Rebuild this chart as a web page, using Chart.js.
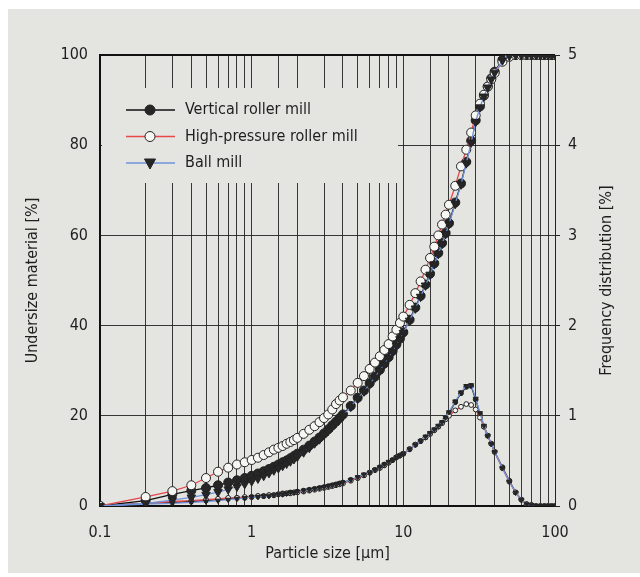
<!DOCTYPE html>
<html>
<head>
<meta charset="utf-8">
<script src="https://cdn.jsdelivr.net/npm/chart.js@4.4.1/dist/chart.umd.min.js"></script>
<style>
  html, body { margin: 0; padding: 0; background: #fff; }
  canvas { display: block; }
</style>
</head>
<body>
<canvas id="chart" width="640" height="577"></canvas>
<script>
// particle size classes [µm]
const sizes = [0.1, 0.2, 0.3, 0.4, 0.5, 0.6, 0.7, 0.8, 0.9, 1,
  1.1, 1.2, 1.3, 1.4, 1.5, 1.6, 1.7, 1.8, 1.9, 2,
  2.2, 2.4, 2.6, 2.8, 3, 3.2, 3.4, 3.6, 3.8, 4,
  4.5, 5, 5.5, 6, 6.5, 7, 7.5, 8, 8.5, 9, 9.5, 10,
  11, 12, 13, 14, 15, 16, 17, 18, 19, 20,
  22, 24, 26, 28, 30, 32, 34, 36, 38, 40,
  45, 50, 55, 60, 65, 70, 75, 80, 85, 90, 95, 100];

// undersize material [%]
const vrmCum = [0, 1.2, 2.6, 3.4, 4.0, 4.6, 5.2, 5.7, 6.2, 6.7,
  7.2, 7.7, 8.2, 8.7, 9.2, 9.7, 10.1, 10.6, 11.1, 11.6,
  12.5, 13.4, 14.3, 15.2, 16.1, 17.0, 17.9, 18.7, 19.5, 20.3,
  22.2, 24.0, 25.6, 27.2, 28.7, 30.2, 31.6, 33.0, 34.4, 35.8, 37.1, 38.5,
  41.3, 44.0, 46.6, 49.1, 51.5, 53.8, 56.1, 58.3, 60.5, 62.7,
  67.3, 71.5, 76.3, 81.0, 85.5, 88.6, 91.0, 93.0, 94.8, 96.3,
  98.9, 99.8, 100, 100, 100, 100, 100, 100, 100, 100, 100, 100];
const hprmCum = [0, 2.0, 3.3, 4.6, 6.2, 7.6, 8.5, 9.2, 9.7, 10.2,
  10.7, 11.3, 11.9, 12.5, 12.9, 13.3, 13.8, 14.2, 14.6, 15.1,
  16.0, 16.9, 17.7, 18.6, 19.5, 20.3, 21.4, 22.6, 23.4, 24.1,
  25.6, 27.3, 28.8, 30.4, 31.8, 33.2, 34.6, 35.9, 37.6, 39.1, 40.6, 42.0,
  44.6, 47.2, 49.8, 52.4, 55.0, 57.5, 60.0, 62.4, 64.6, 66.8,
  71.0, 75.3, 79.0, 82.8, 86.6, 89.2, 91.2, 93.0, 94.6, 96.0,
  98.5, 99.6, 100, 100, 100, 100, 100, 100, 100, 100, 100, 100];
const bmCum = [0, 0.6, 1.3, 1.9, 2.5, 3.1, 3.7, 4.3, 4.9, 5.5,
  6.1, 6.7, 7.3, 7.9, 8.4, 8.9, 9.4, 9.9, 10.4, 10.9,
  11.9, 12.9, 13.9, 14.8, 15.8, 16.7, 17.6, 18.5, 19.3, 20.1,
  22.0, 23.8, 25.4, 27.0, 28.5, 30.0, 31.4, 32.8, 34.2, 35.6, 37.0, 38.4,
  41.1, 43.8, 46.4, 48.9, 51.3, 53.6, 55.9, 58.1, 60.3, 62.5,
  67.0, 71.3, 76.0, 80.6, 85.2, 88.4, 90.8, 92.8, 94.6, 96.1,
  98.8, 99.8, 100, 100, 100, 100, 100, 100, 100, 100, 100, 100];

// frequency distribution [%]
const vrmFreq = [0, 0.03, 0.04, 0.05, 0.06, 0.07, 0.08, 0.09, 0.09, 0.10,
  0.11, 0.11, 0.12, 0.12, 0.13, 0.14, 0.14, 0.15, 0.15, 0.16,
  0.17, 0.18, 0.19, 0.20, 0.21, 0.22, 0.23, 0.24, 0.25, 0.26,
  0.29, 0.31, 0.34, 0.37, 0.40, 0.43, 0.46, 0.48, 0.51, 0.54, 0.56, 0.58,
  0.63, 0.68, 0.72, 0.76, 0.80, 0.84, 0.88, 0.92, 0.97, 1.03,
  1.15, 1.25, 1.32, 1.33, 1.18, 1.02, 0.88, 0.78, 0.69, 0.60,
  0.43, 0.28, 0.15, 0.07, 0.02, 0.01, 0, 0, 0, 0, 0, 0];
const hprmFreq = [0, 0.03, 0.05, 0.06, 0.07, 0.08, 0.09, 0.09, 0.10, 0.10,
  0.11, 0.11, 0.12, 0.12, 0.13, 0.13, 0.14, 0.14, 0.15, 0.15,
  0.16, 0.17, 0.18, 0.19, 0.20, 0.21, 0.22, 0.23, 0.24, 0.25,
  0.28, 0.31, 0.34, 0.37, 0.40, 0.42, 0.45, 0.48, 0.51, 0.54, 0.56, 0.58,
  0.63, 0.68, 0.72, 0.76, 0.80, 0.84, 0.88, 0.92, 0.96, 1.00,
  1.06, 1.10, 1.13, 1.12, 1.07, 0.98, 0.88, 0.78, 0.69, 0.60,
  0.42, 0.27, 0.15, 0.07, 0.02, 0.01, 0, 0, 0, 0, 0, 0];
const bmFreq = [0, 0.02, 0.03, 0.04, 0.05, 0.06, 0.07, 0.08, 0.09, 0.10,
  0.10, 0.11, 0.11, 0.12, 0.13, 0.13, 0.14, 0.15, 0.15, 0.16,
  0.17, 0.18, 0.19, 0.20, 0.21, 0.22, 0.23, 0.24, 0.25, 0.26,
  0.29, 0.32, 0.35, 0.37, 0.40, 0.43, 0.46, 0.49, 0.51, 0.54, 0.56, 0.58,
  0.63, 0.68, 0.72, 0.77, 0.81, 0.85, 0.89, 0.93, 0.98, 1.04,
  1.16, 1.26, 1.33, 1.34, 1.19, 1.03, 0.89, 0.78, 0.69, 0.60,
  0.42, 0.27, 0.15, 0.07, 0.02, 0.01, 0, 0, 0, 0, 0, 0];

const seriesNames = ['Vertical roller mill', 'High-pressure roller mill', 'Ball mill'];
const xLabels = [0.1, 1, 10, 100];

const BG = '#e4e4e1';
const INK = '#1e1e1e';
const FONT = "'Liberation Sans Narrow', 'DejaVu Sans Condensed', 'Roboto Condensed', sans-serif";

Chart.defaults.font.family = FONT;
Chart.defaults.font.size = 16;
Chart.defaults.color = INK;

const toXY = arr => sizes.map((s, i) => ({x: s, y: arr[i]}));

const styles = [
  {line: '#111111', fill: '#262626', shape: 'circle', rot: 0},
  {line: '#e8474a', fill: '#f6f6f3', shape: 'circle', rot: 0},
  {line: '#6f93da', fill: '#262626', shape: 'triangle', rot: 180}
];

function series(label, arr, st, axis, r, order) {
  return {
    label: label,
    data: toXY(arr),
    yAxisID: axis,
    borderColor: st.line,
    borderWidth: 1.3,
    pointStyle: st.shape,
    pointRotation: st.rot,
    pointRadius: st.shape === 'triangle' ? r + 0.6 : r,
    pointBackgroundColor: st.fill,
    pointBorderColor: '#222',
    pointBorderWidth: 1,
    tension: 0,
    order: order
  };
}

// page background panel
const panel = {
  id: 'panel',
  beforeDraw(chart) {
    const ctx = chart.ctx;
    ctx.save();
    ctx.fillStyle = '#ffffff';
    ctx.fillRect(0, 0, chart.width, chart.height);
    ctx.fillStyle = BG;
    ctx.fillRect(8, 9, chart.width - 8, chart.height - 13);
    ctx.restore();
  }
};

// legend box inside the plot, covering the grid
const legendBox = {
  id: 'legendBox',
  beforeDatasetsDraw(chart) {
    const {ctx, chartArea: a} = chart;
    ctx.save();
    ctx.fillStyle = BG;
    ctx.fillRect(a.left + 2, a.top + 33, 296, 95);
    seriesNames.forEach((name, i) => {
      const st = styles[i];
      const y = a.top + 55 + i * 26.5;
      ctx.strokeStyle = st.line;
      ctx.lineWidth = 1.5;
      ctx.beginPath();
      ctx.moveTo(a.left + 26, y);
      ctx.lineTo(a.left + 75, y);
      ctx.stroke();
      ctx.fillStyle = st.fill;
      ctx.strokeStyle = '#222';
      ctx.lineWidth = 1;
      const cx = a.left + 50;
      ctx.beginPath();
      if (st.shape === 'circle') {
        ctx.arc(cx, y, 5, 0, Math.PI * 2);
      } else {
        ctx.moveTo(cx - 5.5, y - 4);
        ctx.lineTo(cx + 5.5, y - 4);
        ctx.lineTo(cx, y + 6);
        ctx.closePath();
      }
      ctx.fill();
      ctx.stroke();
      ctx.fillStyle = INK;
      ctx.font = '16px ' + FONT;
      ctx.textAlign = 'left';
      ctx.textBaseline = 'middle';
      ctx.fillText(name, a.left + 85, y);
    });
    ctx.restore();
  }
};

// right axis title reads bottom to top, like the left one
const rightTitle = {
  id: 'rightTitle',
  afterDraw(chart) {
    const {ctx, chartArea: a} = chart;
    ctx.save();
    ctx.translate(607, (a.top + a.bottom) / 2);
    ctx.rotate(-Math.PI / 2);
    ctx.fillStyle = INK;
    ctx.font = '16px ' + FONT;
    ctx.textAlign = 'center';
    ctx.textBaseline = 'middle';
    ctx.fillText('Frequency distribution [%]', 0, 0);
    ctx.restore();
  }
};

new Chart(document.getElementById('chart'), {
  type: 'line',
  data: {
    datasets: [
      series(seriesNames[2], bmCum, styles[2], 'y', 4.3, 0),
      series(seriesNames[1], hprmCum, styles[1], 'y', 4.5, 1),
      series(seriesNames[0], vrmCum, styles[0], 'y', 4.5, 2),
      series(seriesNames[2], bmFreq, styles[2], 'y2', 2.3, 3),
      series(seriesNames[1], hprmFreq, styles[1], 'y2', 2.4, 4),
      series(seriesNames[0], vrmFreq, styles[0], 'y2', 2.4, 5)
    ]
  },
  options: {
    responsive: false,
    animation: false,
    devicePixelRatio: 1,
    layout: {padding: {top: 55, left: 0, right: 0, bottom: 0}},
    plugins: {legend: {display: false}, tooltip: {enabled: false}},
    scales: {
      x: {
        type: 'logarithmic',
        position: 'bottom',
        min: 0.1,
        max: 100,
        afterFit: s => { s.height = 71; },
        grid: {color: 'rgba(25,25,25,0.85)', lineWidth: 1, drawTicks: false},
        border: {display: true, color: '#111', width: 2},
        ticks: {
          autoSkip: false,
          maxRotation: 0,
          padding: 17,
          callback: v => {
            const hit = xLabels.find(l => Math.abs(l - v) < 1e-9);
            return hit === undefined ? '' : String(hit);
          }
        },
        title: {display: true, text: 'Particle size [µm]', padding: {top: 0, bottom: 14}}
      },
      y: {
        position: 'left',
        min: 0,
        max: 100,
        afterFit: s => { s.width = 100; },
        grid: {
          color: c => c.tick && c.tick.value === 100 ? '#111' : 'rgba(25,25,25,0.85)',
          lineWidth: c => c.tick && c.tick.value === 100 ? 2 : 1,
          drawTicks: false
        },
        border: {display: true, color: '#111', width: 2},
        ticks: {stepSize: 20, padding: 12},
        title: {display: true, text: 'Undersize material [%]', padding: {top: 23, bottom: 0}}
      },
      y2: {
        position: 'right',
        min: 0,
        max: 5,
        afterFit: s => { s.width = 85; },
        grid: {drawOnChartArea: false, drawTicks: true, tickLength: 5, color: '#222'},
        border: {display: true, color: '#222', width: 1},
        ticks: {stepSize: 1, padding: 8}
      }
    }
  },
  plugins: [panel, legendBox, rightTitle]
});
</script>
</body>
</html>
